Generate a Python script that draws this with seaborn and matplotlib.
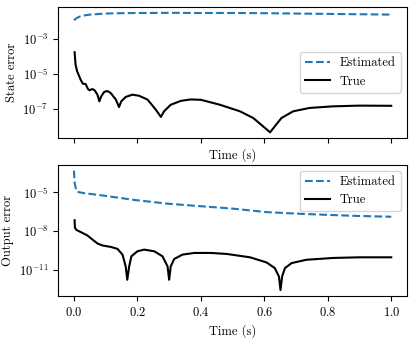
import seaborn as sns
import matplotlib.pyplot as plt
import numpy as np

# values, stored as log10 of the error
state_est_t = [0.0, 0.005, 0.01, 0.02, 0.035, 0.05, 0.075, 0.1, 0.15, 0.19, 0.3,
               0.4, 0.5, 0.6, 0.7, 0.8, 0.9, 1.0]
state_est_log = [-1.96, -1.88, -1.82, -1.74, -1.68, -1.64, -1.61, -1.58, -1.56, -1.55,
                 -1.54, -1.55, -1.55, -1.56, -1.58, -1.6, -1.62, -1.64]

state_true_t = [0.002, 0.005, 0.01, 0.021, 0.028, 0.037, 0.044, 0.049, 0.058, 0.065,
                0.074, 0.08, 0.086, 0.095, 0.105, 0.116, 0.132, 0.142, 0.149, 0.163,
                0.184, 0.205, 0.232, 0.258, 0.274, 0.284, 0.305, 0.337, 0.368, 0.4,
                0.46, 0.523, 0.565, 0.596, 0.618, 0.633, 0.654, 0.691, 0.743, 0.817,
                0.9, 1.0]
state_true_log = [-3.77, -4.47, -4.85, -5.32, -5.55, -5.57, -5.85, -5.92, -5.85, -5.92,
                  -6.17, -6.55, -6.26, -6.02, -5.96, -6.08, -6.45, -6.87, -6.55, -6.3,
                  -6.17, -6.23, -6.45, -7.02, -7.43, -7.11, -6.74, -6.52, -6.44, -6.46,
                  -6.74, -7.11, -7.49, -7.96, -8.3, -7.96, -7.49, -7.11, -6.92, -6.83,
                  -6.79, -6.8]

out_est_t = [0.0, 0.002, 0.005, 0.01, 0.032, 0.084, 0.19, 0.295, 0.4, 0.502, 0.607,
             0.712, 0.817, 0.9, 1.0]
out_est_log = [-3.29, -4.2, -4.6, -4.95, -5.05, -5.21, -5.58, -5.87, -6.07, -6.26, -6.53,
               -6.66, -6.76, -6.83, -6.89]

out_true_t = [0.002, 0.003, 0.008, 0.021, 0.042, 0.058, 0.074, 0.09, 0.116, 0.137,
              0.153, 0.163, 0.168, 0.174, 0.181, 0.2, 0.221, 0.253, 0.279, 0.295,
              0.3, 0.305, 0.316, 0.342, 0.379, 0.432, 0.482, 0.555, 0.607, 0.633,
              0.646, 0.651, 0.656, 0.665, 0.686, 0.733, 0.817, 0.9, 1.0]
out_true_log = [-7.16, -7.74, -7.92, -8.08, -8.34, -8.66, -8.97, -9.13, -9.24, -9.39,
                -9.84, -10.76, -11.8, -10.76, -9.97, -9.58, -9.45, -9.58, -9.97, -10.76,
                -11.8, -10.76, -10.18, -9.84, -9.71, -9.71, -9.79, -10.05, -10.45, -10.89,
                -11.55, -12.6, -11.55, -10.89, -10.5, -10.24, -10.1, -10.05, -10.05]

time_ticks = [0.0, 0.2, 0.4, 0.6, 0.8, 1.0]

plt.rcParams['font.family'] = 'serif'
plt.rcParams['font.serif'] = ['cmr10']
plt.rcParams['mathtext.fontset'] = 'cm'
plt.rcParams['axes.formatter.use_mathtext'] = True
plt.rcParams['font.size'] = 9

fig, (ax1, ax2) = plt.subplots(2, 1, figsize=(4.15, 3.43), dpi=100)
fig.subplots_adjust(left=0.14, right=0.981, top=0.98, bottom=0.137, hspace=0.2)

blue = '#1f77b4'

sns.lineplot(x=state_est_t, y=10 ** np.array(state_est_log), color=blue,
             linestyle='--', linewidth=1.5, label='Estimated', ax=ax1)
sns.lineplot(x=state_true_t, y=10 ** np.array(state_true_log), color='black',
             linewidth=1.5, label='True', ax=ax1)
ax1.set_yscale('log')
ax1.set_ylabel('State error', labelpad=3)
ax1.set_xlabel('Time (s)')
ax1.set_xticks(time_ticks)
ax1.tick_params(axis='x', labelbottom=False)
ax1.legend(loc='center right')

sns.lineplot(x=out_est_t, y=10 ** np.array(out_est_log), color=blue,
             linestyle='--', linewidth=1.5, label='Estimated', ax=ax2)
sns.lineplot(x=out_true_t, y=10 ** np.array(out_true_log), color='black',
             linewidth=1.5, label='True', ax=ax2)
ax2.set_yscale('log')
ax2.set_ylabel('Output error', labelpad=3)
ax2.set_xlabel('Time (s)')
ax2.set_xticks(time_ticks)
ax2.legend(loc='upper right')

for ax in (ax1, ax2):
    ax.set_xlim(-0.05, 1.05)
    ax.yaxis.set_minor_locator(plt.NullLocator())

plt.savefig('out.png', dpi=100)
plt.close()
